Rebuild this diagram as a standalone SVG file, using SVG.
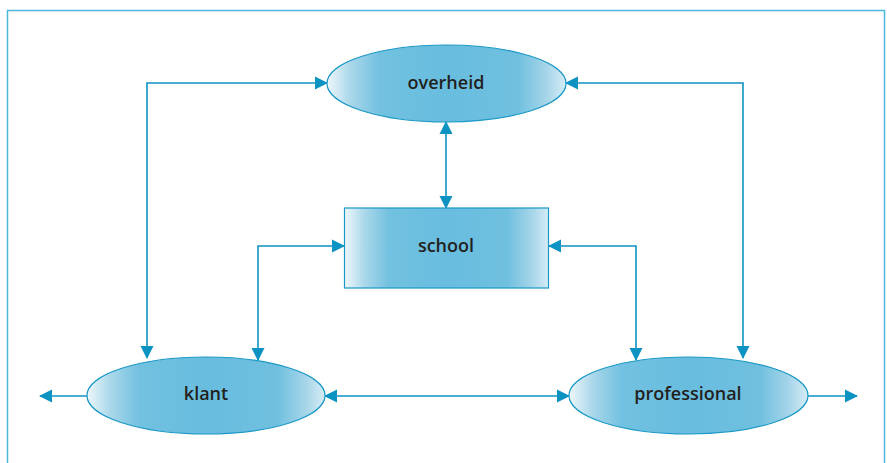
<svg xmlns="http://www.w3.org/2000/svg" width="887" height="463" viewBox="0 0 887 463">
<defs>
<linearGradient id="g" x1="0" y1="0" x2="1" y2="0">
<stop offset="0" stop-color="#eef7fb"/>
<stop offset="0.1" stop-color="#a9d7ea"/>
<stop offset="0.22" stop-color="#72c1e0"/>
<stop offset="0.5" stop-color="#68bddf"/>
<stop offset="0.8" stop-color="#70c0df"/>
<stop offset="0.92" stop-color="#a6d5e9"/>
<stop offset="1" stop-color="#d6ecf5"/>
</linearGradient>
<marker id="a" markerUnits="userSpaceOnUse" markerWidth="14" markerHeight="14" refX="12" refY="6.5" orient="auto-start-reverse" viewBox="0 0 14 13">
<path d="M0,0 L13,6.5 L0,13 z" fill="#0d93c2"/>
</marker>
<style>
.n{fill:url(#g);stroke:#1a98c6;stroke-width:1.2}
.t{font-family:"Open Sans","Liberation Sans",sans-serif;font-weight:600;font-size:18px;fill:#231f20;text-anchor:middle}
.c{fill:none;stroke:#0d93c2;stroke-width:1.6}
</style>
</defs>
<rect width="887" height="463" fill="#ffffff"/>
<rect x="7.5" y="10.5" width="877" height="470" fill="none" stroke="#4db6dc" stroke-width="1.5"/>
<g id="connectors">
<path class="c" d="M147,358 V83 H327" marker-start="url(#a)" marker-end="url(#a)"/>
<path class="c" d="M743,358 V83 H566" marker-start="url(#a)" marker-end="url(#a)"/>
<path class="c" d="M446,122 V208" marker-start="url(#a)" marker-end="url(#a)"/>
<path class="c" d="M258,360 V246 H344" marker-start="url(#a)" marker-end="url(#a)"/>
<path class="c" d="M636,360 V246 H549" marker-start="url(#a)" marker-end="url(#a)"/>
<path class="c" d="M325,396 H569" marker-start="url(#a)" marker-end="url(#a)"/>
<path class="c" d="M87,396 H40" marker-end="url(#a)"/>
<path class="c" d="M808,396 H857" marker-end="url(#a)"/>
</g>
<g id="overheid">
<ellipse class="n" cx="446.5" cy="83.5" rx="119.5" ry="38.5"/>
<text class="t" x="446" y="89">overheid</text>
</g>
<g id="school">
<rect class="n" x="344.5" y="208" width="204" height="80"/>
<text class="t" x="446" y="252">school</text>
</g>
<g id="klant">
<ellipse class="n" cx="206" cy="395.5" rx="119" ry="38.5"/>
<text class="t" x="206" y="400">klant</text>
</g>
<g id="professional">
<ellipse class="n" cx="688.5" cy="395.5" rx="119.5" ry="38.5"/>
<text class="t" x="688" y="400">professional</text>
</g>
</svg>
